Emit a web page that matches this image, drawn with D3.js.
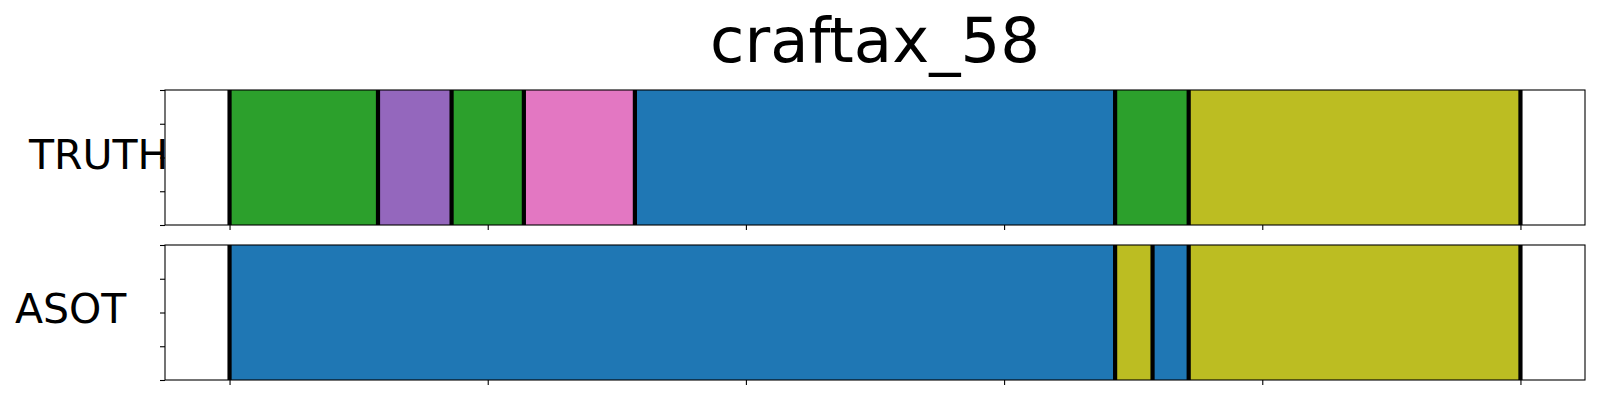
<!DOCTYPE html>
<html>
<head>
<meta charset="utf-8">
<script src="https://cdn.jsdelivr.net/npm/d3@7"></script>
<style>
  html, body { margin: 0; padding: 0; background: #fff; }
  svg { display: block; font-family: "DejaVu Sans", sans-serif; }
</style>
</head>
<body>
<svg id="chart" width="1600" height="400"></svg>
<script>
// ---- data ----
const title = "craftax_58";
const rows = ["TRUTH", "ASOT"];
// segment boundaries (frame index) for each row
const truthBounds = [0, 115, 172, 228, 314, 686, 743, 1000];
const truthClasses = [2, 4, 2, 6, 0, 2, 8];
const asotBounds = [0, 686, 715, 743, 1000];
const asotClasses = [0, 8, 0, 8];
const xTicks = [0, 200, 400, 600, 800, 1000];
const yTicks = [0, 0.25, 0.5, 0.75, 1];
const palette = ["#1f77b4", "#ff7f0e", "#2ca02c", "#d62728", "#9467bd",
                 "#8c564b", "#e377c2", "#7f7f7f", "#bcbd22", "#17becf"];

// ---- layout ----
const svg = d3.select("#chart");
const left = 165, right = 1585;
const panels = [
  { name: rows[0], bounds: truthBounds, classes: truthClasses, top: 90, h: 135, labelX: 29, labelY: 169 },
  { name: rows[1], bounds: asotBounds, classes: asotClasses, top: 245, h: 135, labelX: 15, labelY: 323 }
];

const xMin = 0, xMax = d3.max([d3.max(truthBounds), d3.max(asotBounds)]);
const pad = (xMax - xMin) * 0.05;
const x = d3.scaleLinear().domain([xMin - pad, xMax + pad]).range([left, right]);

svg.append("text")
  .attr("x", (left + right) / 2)
  .attr("y", 62)
  .attr("text-anchor", "middle")
  .attr("font-size", 62.5)
  .attr("fill", "#000")
  .text(title);

panels.forEach(p => {
  const y = d3.scaleLinear().domain([0, 1]).range([p.top + p.h, p.top]);
  const g = svg.append("g");

  const segs = p.classes.map((c, i) => ({ x0: p.bounds[i], x1: p.bounds[i + 1], c }));
  g.selectAll("rect.seg").data(segs).enter().append("rect")
    .attr("class", "seg")
    .attr("x", d => x(d.x0))
    .attr("width", d => x(d.x1) - x(d.x0))
    .attr("y", y(1))
    .attr("height", y(0) - y(1))
    .attr("fill", d => palette[d.c]);

  g.selectAll("line.bd").data(p.bounds).enter().append("line")
    .attr("class", "bd")
    .attr("x1", d => x(d)).attr("x2", d => x(d))
    .attr("y1", y(1)).attr("y2", y(0))
    .attr("stroke", "#000")
    .attr("stroke-width", 4.2);

  // frame
  g.append("rect")
    .attr("x", left).attr("y", p.top)
    .attr("width", right - left).attr("height", p.h)
    .attr("fill", "none").attr("stroke", "#000").attr("stroke-width", 1.1);

  // axes (no labels)
  const xAxis = d3.axisBottom(x).tickValues(xTicks).tickSize(5).tickFormat("");
  const xa = g.append("g").attr("transform", `translate(0,${p.top + p.h})`).call(xAxis);
  xa.select(".domain").remove();
  xa.selectAll("line").attr("stroke-width", 1.1);

  const yAxis = d3.axisLeft(y).tickValues(yTicks).tickSize(5).tickFormat("");
  const ya = g.append("g").attr("transform", `translate(${left},0)`).call(yAxis);
  ya.select(".domain").remove();
  ya.selectAll("line").attr("stroke-width", 1.1);

  svg.append("text")
    .attr("x", p.labelX)
    .attr("y", p.labelY)
    .attr("font-size", 41)
    .attr("fill", "#000")
    .text(p.name);
});
</script>
</body>
</html>
